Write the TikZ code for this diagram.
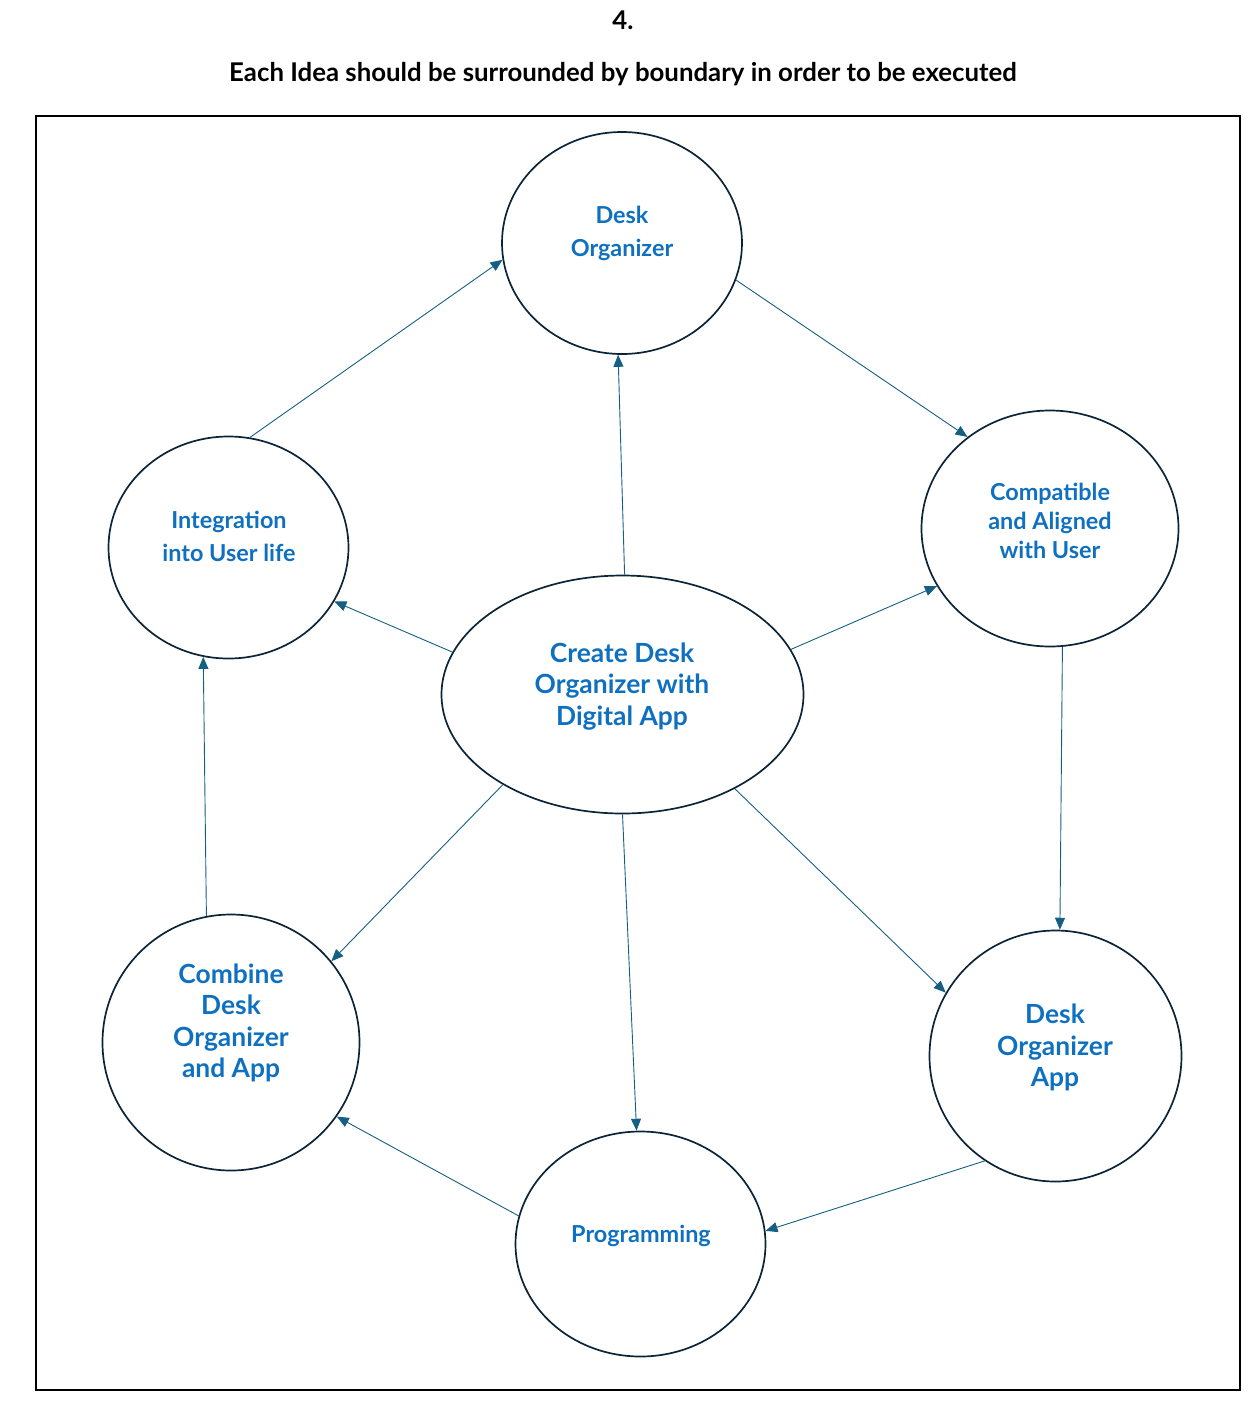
\documentclass[tikz,border=0pt]{standalone}
\usepackage{fontspec}
\setmainfont{Lato}
\usetikzlibrary{shapes.geometric,arrows.meta}
\definecolor{txtblue}{RGB}{15,112,192}
\definecolor{circ}{RGB}{12,36,56}
\definecolor{arr}{RGB}{21,96,130}
\begin{document}
\begin{tikzpicture}[x=0.5pt,y=-0.5pt,
  bub/.style={ellipse,draw=circ,line width=0.85pt,inner sep=0pt},
  lbl/.style={text=txtblue,align=center,inner sep=0pt,font=\bfseries\fontsize{13.2}{15.75}\selectfont},
  slbl/.style={text=txtblue,align=center,inner sep=0pt,font=\bfseries\fontsize{11.7}{16.5}\selectfont},
  ttl/.style={text=black,inner sep=0pt,font=\bfseries\fontsize{12.9}{14}\selectfont},
  conn/.style={draw=arr,line width=0.45pt,-{Triangle[length=6pt,width=5pt]}}]
\useasboundingbox (0,0) rectangle (1249,1420);
\node[ttl] (num) at (623,20) {4.};
\node[ttl] (title) at (623,74) {Each Idea should be surrounded by boundary in order to be executed};
\draw[line width=1pt] (36,116) rectangle (1240,1390);
% ellipses
\node[bub,minimum width=120pt,minimum height=111pt] (do) at (622,243) {};
\node[bub,minimum width=128.5pt,minimum height=118pt] (comp) at (1050,528.5) {};
\node[bub,minimum width=120pt,minimum height=111pt] (integ) at (228.5,547.5) {};
\node[bub,minimum width=181pt,minimum height=119pt] (create) at (622.5,694.5) {};
\node[bub,minimum width=128.5pt,minimum height=128pt] (comb) at (231,1042.5) {};
\node[bub,minimum width=126pt,minimum height=125.5pt] (doa) at (1055.5,1056) {};
\node[bub,minimum width=125pt,minimum height=112.5pt] (prog) at (640.5,1244) {};
% labels
\node[slbl] (tdo) at (622,233) {Desk\\Organizer};
\node[slbl,font=\bfseries\fontsize{11.7}{14.5}\selectfont] (tcomp) at (1050,521) {Compatible\\and Aligned\\with User};
\node[slbl] (tinteg) at (229,536.5) {Integration\\into User life};
\node[lbl] (tcreate) at (622,686.5) {Create Desk\\Organizer with\\Digital App};
\node[lbl] (tcomb) at (231,1023) {Combine\\Desk\\Organizer\\and App};
\node[lbl] (tdoa) at (1055,1047.5) {Desk\\Organizer\\App};
\node[slbl] (tprog) at (641,1236) {Programming};
% connectors
\draw[conn] (integ.79.3) -- (do.188.5);
\draw[conn] (create.89) -- (do.268);
\draw[conn] (do.-18.7) -- (comp.132);
\draw[conn] (create.15.3) -- (comp.207.6);
\draw[conn] (create.166.4) -- (integ.-27.9);
\draw[conn] (comp.-84.6) -- (doa.88.9);
\draw[conn] (create.-40.2) -- (doa.150.8);
\draw[conn] (create.-90) -- (prog.92.2);
\draw[conn] (create.217.1) -- (comb.39.5);
\draw[conn] (doa.236.4) -- (prog.6.4);
\draw[conn] (prog.167.9) -- (comb.-35.6);
\draw[conn] (comb.101.9) -- (integ.257.7);
\end{tikzpicture}
\end{document}
